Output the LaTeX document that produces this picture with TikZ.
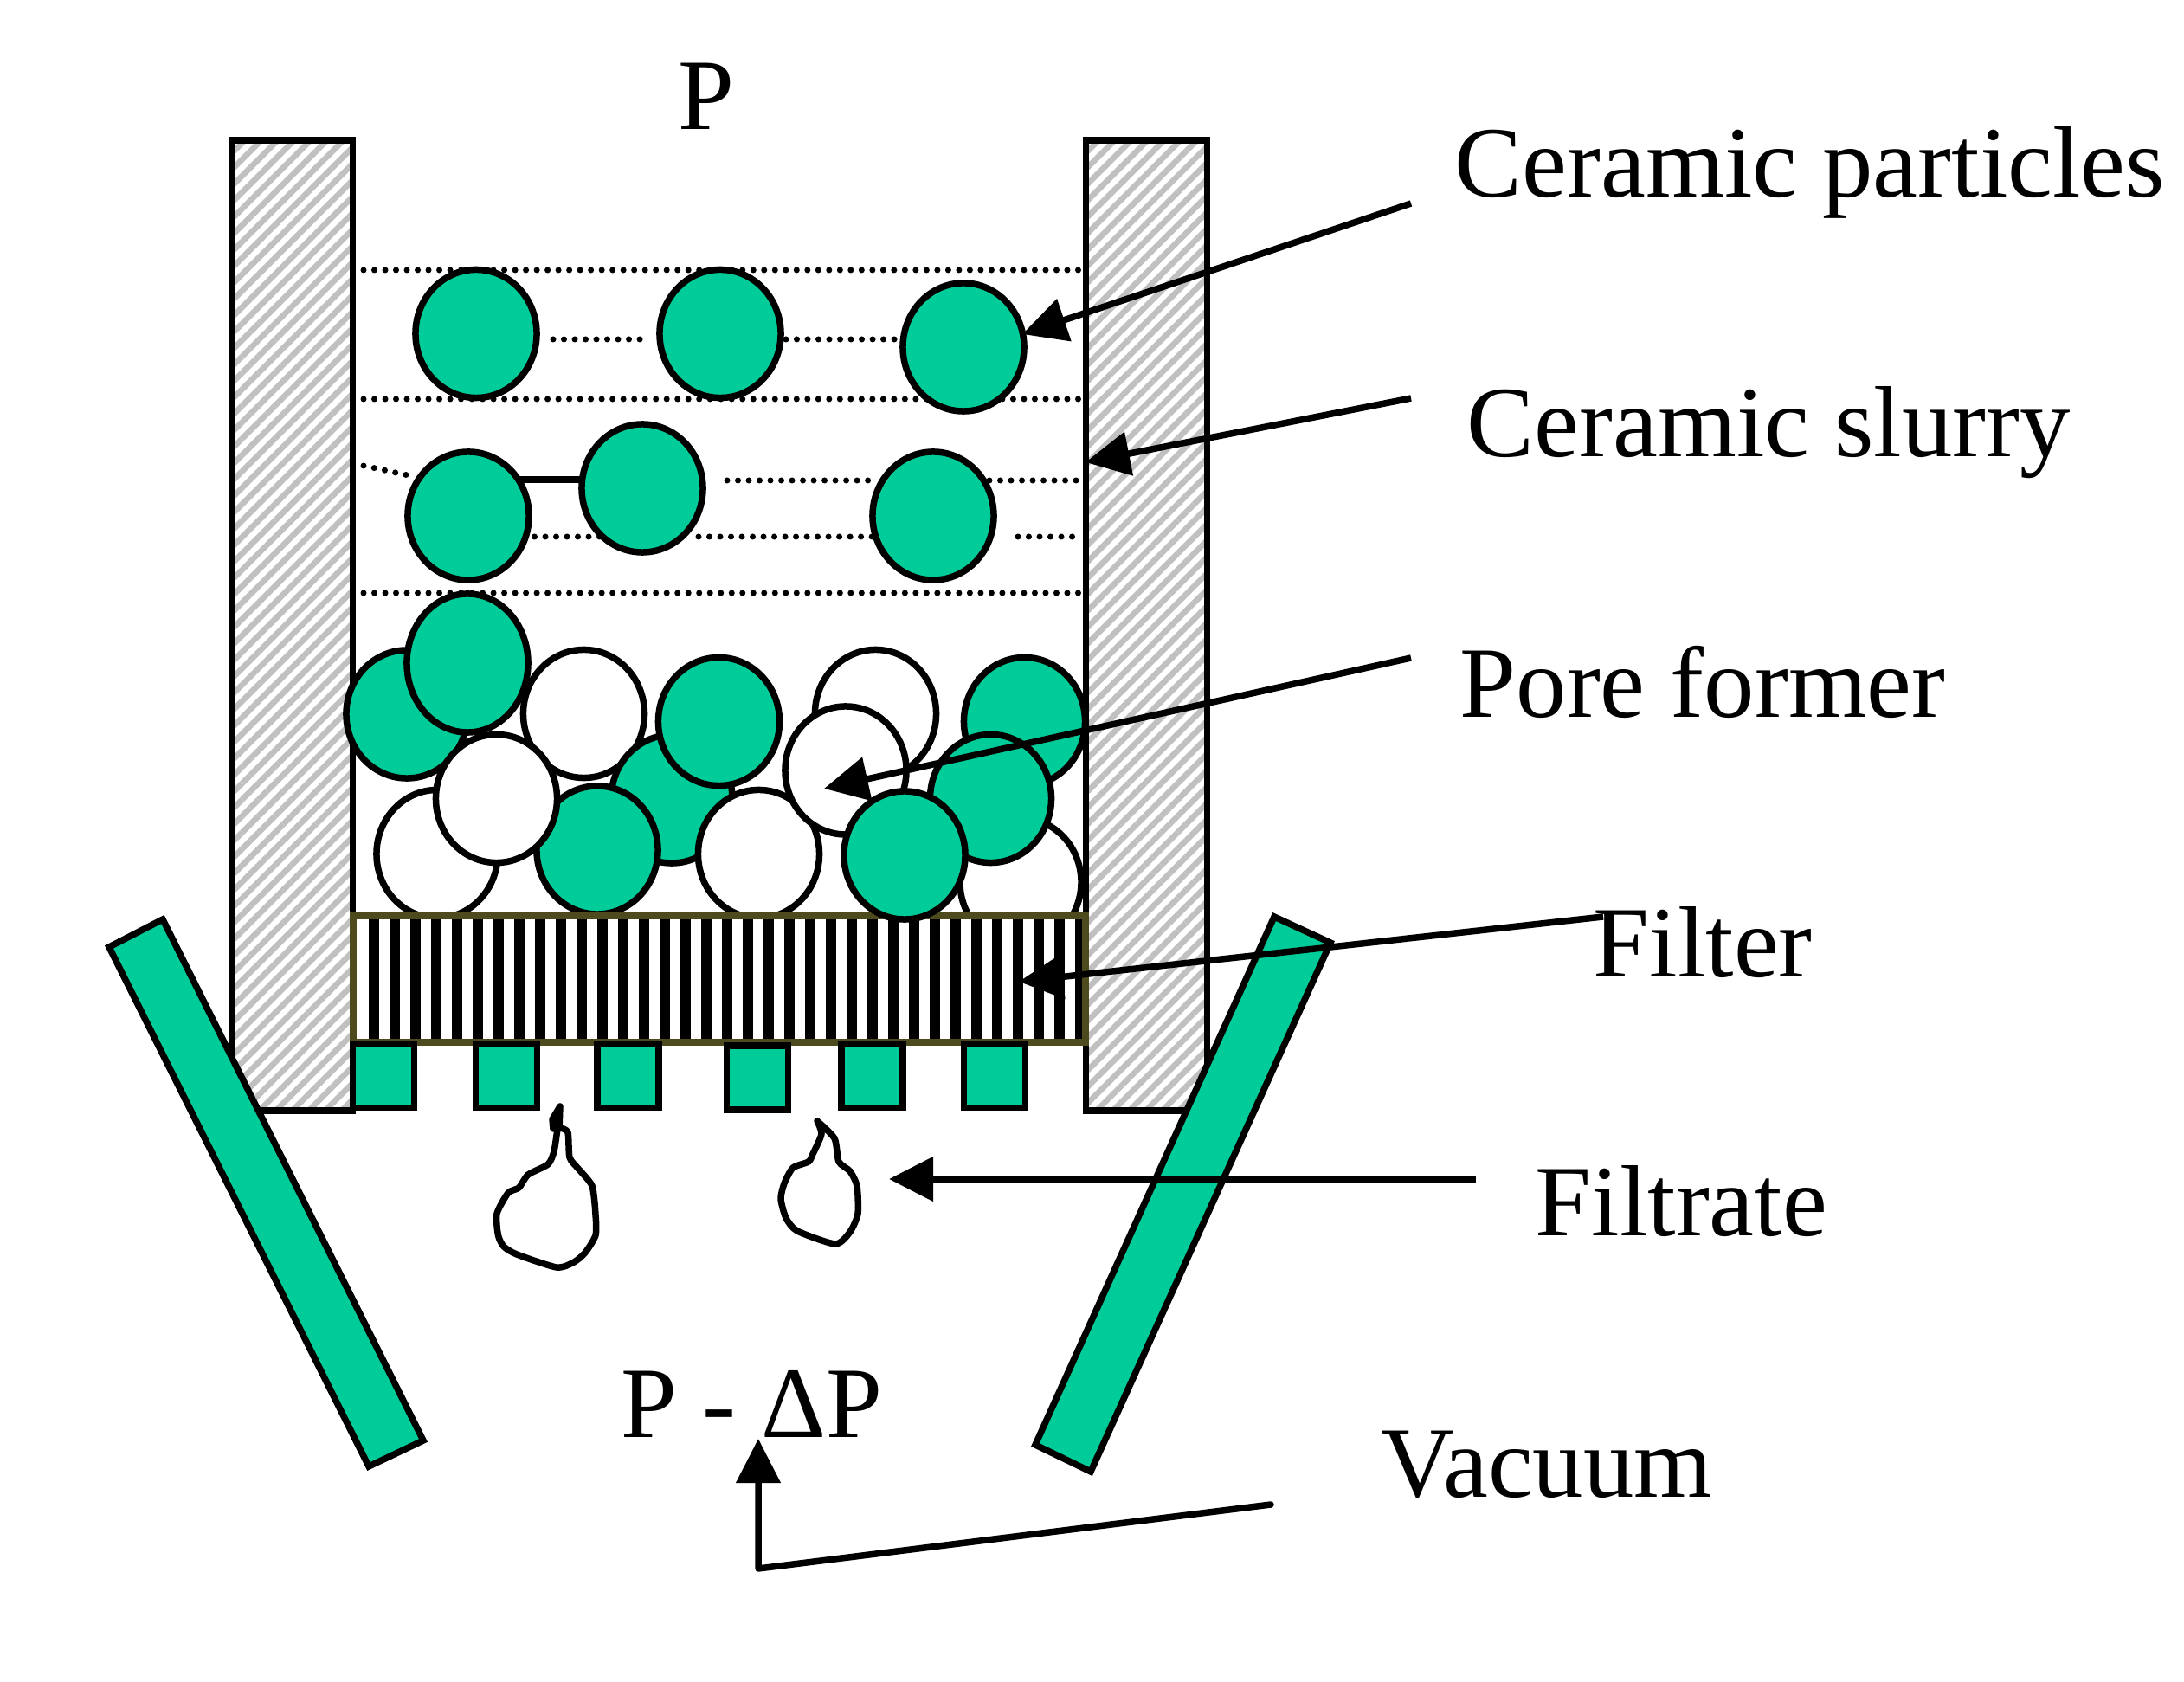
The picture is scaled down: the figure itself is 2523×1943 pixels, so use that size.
\documentclass[tikz,border=0pt]{standalone}
\usepackage{fontspec}
\setmainfont{Liberation Serif}
\usetikzlibrary{shapes.geometric,arrows.meta,patterns.meta}
\definecolor{particlegreen}{RGB}{0,204,153}
\definecolor{filterolive}{RGB}{77,74,30}
\definecolor{wallgray}{RGB}{192,192,192}
\begin{document}
\begin{tikzpicture}[x=0.01cm,y=-0.01cm,line width=0.075cm]
	\tikzstyle{particle} = [ellipse,draw,inner sep=0,minimum width=1.40cm,minimum height=1.48cm,fill=particlegreen]
	\tikzstyle{former} = [particle,fill=white]
	\tikzstyle{wall} = [rectangle,draw,inner sep=0,minimum width=1.40cm,minimum height=11.20cm,pattern={Lines[angle=45,distance=0.134cm,line width=0.067cm]},pattern color=wallgray]
	\tikzstyle{tooth} = [rectangle,draw,inner sep=0,minimum width=0.71cm,minimum height=0.74cm,fill=particlegreen]
	\tikzstyle{caption} = [anchor=base west,inner sep=0,font=\fontsize{33.2}{40}\selectfont]
	\tikzstyle{slurry} = [line width=0.07cm,line cap=round,dash pattern=on 0pt off 0.125cm]
	\tikzstyle{pointer} = [-{Triangle[length=0.51cm,width=0.50cm]}]
	\useasboundingbox (0,0) rectangle (2523,1943);
	\node[wall](leftwall)at(337.5,722.5){};
	\node[wall](rightwall)at(1324.5,722.5){};
	\foreach \xa/\ya/\xb/\yb in {420/312/1253/312,639/392/744/392,908/392/1037/392,420/461/1253/461,420/538/476/550,840/555/1009/555,1143/555/1253/555,605/620/709/620,807/620/1037/620,1176/620/1248/620,420/685/1253/685}
		\draw[slurry] (\xa,\ya) -- (\xb,\yb);
	\coordinate(linkleft)at(560,554);
	\coordinate(linkright)at(720,554);
	\draw (linkleft) -- (linkright);
	\node[particle](top1)at(550,385.5){};
	\node[particle](top2)at(832,385.5){};
	\node[particle](top3)at(1113,401){};
	\node[particle](mid1)at(541,596){};
	\node[particle](mid2)at(742,564){};
	\node[particle](mid3)at(1078,596){};
	\node[particle](pile1)at(470,825){};
	\node[particle,minimum height=1.60cm](pile2)at(540,766){};
	\node[former](pile3)at(674.5,824.5){};
	\node[former](pile4)at(505,986.5){};
	\node[particle](pile5)at(776,923){};
	\node[particle](pile6)at(830.5,833.5){};
	\node[particle](pile7)at(690,982){};
	\node[former](pile8)at(573.5,922.5){};
	\node[former](pile9)at(876.5,986.5){};
	\node[former](pile10)at(1011.5,824.5){};
	\node[former](pile11)at(977,890){};
	\node[particle](pile12)at(1183.5,833.5){};
	\node[former](pile13)at(1179,1019){};
	\node[particle](pile14)at(1144.5,922.5){};
	\node[rectangle,inner sep=0,outer sep=0,minimum width=8.46cm,minimum height=1.46cm,fill=white](filter)at(831,1131){};
	\foreach \i in {0,...,34}
		\draw[line width=0.125cm] (432+24*\i,1058) -- (432+24*\i,1204);
	\draw[filterolive,line width=0.08cm] (filter.north west) rectangle (filter.south east);
	\node[particle](pile15)at(1045,988){};
	\node[tooth](tooth1)at(443,1242.5){};
	\node[tooth](tooth2)at(585,1242.5){};
	\node[tooth](tooth3)at(725.5,1242.5){};
	\node[tooth](tooth4)at(875,1245){};
	\node[tooth](tooth5)at(1007.5,1242.5){};
	\node[tooth](tooth6)at(1149,1242.5){};
	\draw[fill=particlegreen,line join=miter] (126,1094) -- (188,1062) -- (489,1664) -- (426,1694) -- cycle;
	\draw[fill=particlegreen,line join=miter] (1472,1059) -- (1537,1089) -- (1260,1700) -- (1196,1669) -- cycle;
	\draw[line join=round,line cap=round] plot[smooth,tension=0.4] coordinates {(647,1303) (656,1308) (658,1337) (668,1350) (684,1370) (688,1403) (688,1427) (676,1447) (663,1458) (643,1464) (597,1449) (582,1440) (575.5,1427) (574,1402) (587,1378) (599.5,1372) (610,1357) (633,1345) (640,1330) (644,1304)};
	\draw[fill,line join=round] (647,1278) -- (638,1293) -- (639,1304) -- (646,1303) -- cycle;
	\draw[line join=round,line cap=round] plot[smooth,tension=0.4] coordinates {(944,1295) (949,1310) (939,1333) (934,1342) (916,1349) (906,1367) (902,1385) (908,1407) (921,1422) (965,1437) (982,1423) (991,1402) (990,1370) (982,1353) (969,1342) (964,1315) (944,1295)};
	\node[caption](pressure)at(780,150){P};
	\node[caption](particleslabel)at(1677,228){Ceramic particles};
	\node[caption](slurrylabel)at(1691,528){Ceramic slurry};
	\node[caption](porelabel)at(1683,829){Pore former};
	\node[caption](filterlabel)at(1837,1129){Filter};
	\node[caption](filtratelabel)at(1770,1427){Filtrate};
	\node[caption](vacuumlabel)at(1592,1729){Vacuum};
	\node[caption](droplabel)at(714,1660){P - ΔP};
	\coordinate(particlesend)at(1630,235);
	\coordinate(particlestip)at(1181,386);
	\coordinate(slurryend)at(1630,460);
	\coordinate(slurrytip)at(1254,534);
	\coordinate(poreend)at(1630,760);
	\coordinate(poretip)at(952,911);
	\coordinate(filterend)at(1852,1059);
	\coordinate(filtertip)at(1177,1134);
	\coordinate(filtrateend)at(1705,1362);
	\coordinate(filtratetip)at(1027,1362);
	\coordinate(vacuumend)at(1468,1738);
	\coordinate(vacuumcorner)at(876,1812);
	\coordinate(vacuumtip)at(876,1662);
	\path[pointer,draw] (particlesend) -- (particlestip);
	\path[pointer,draw] (slurryend) -- (slurrytip);
	\path[pointer,draw] (poreend) -- (poretip);
	\path[pointer,draw] (filterend) -- (filtertip);
	\path[pointer,draw] (filtrateend) -- (filtratetip);
	\path[pointer,draw,line join=round,line cap=round] (vacuumend) -- (vacuumcorner) -- (vacuumtip);
\end{tikzpicture}
\end{document}
